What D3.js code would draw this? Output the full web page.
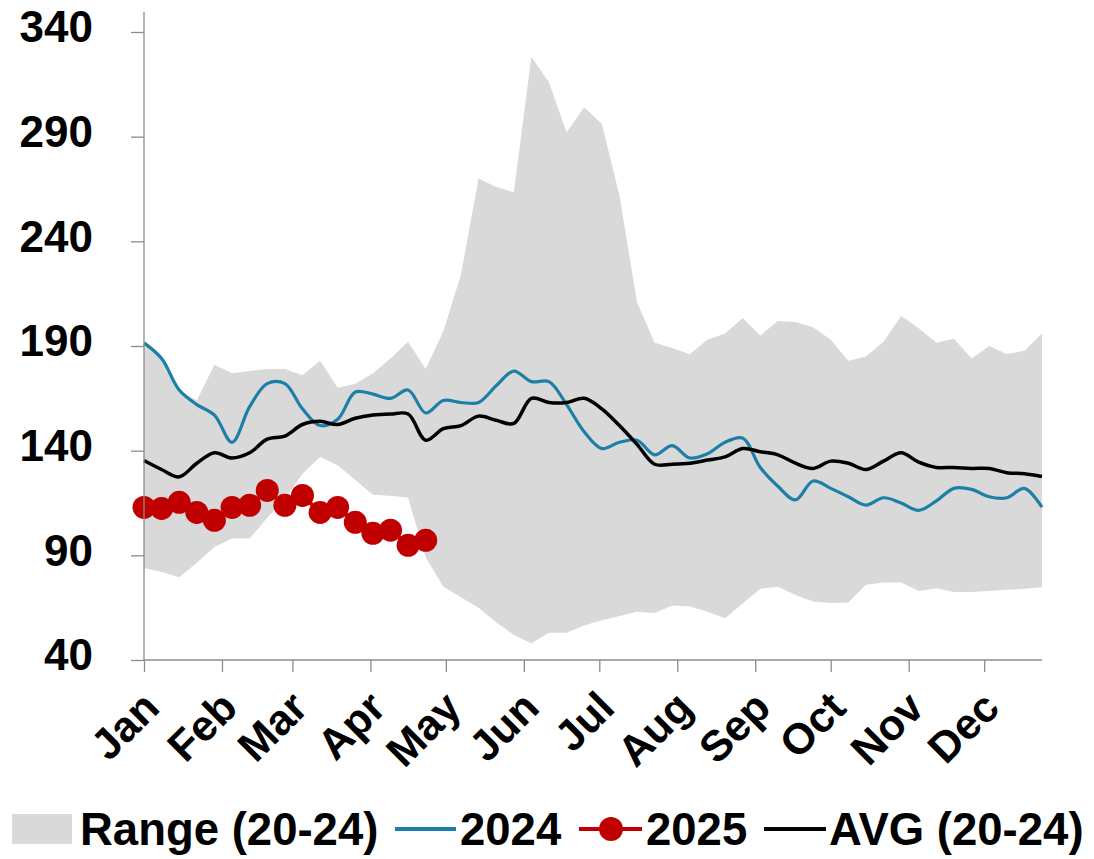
<!DOCTYPE html>
<html>
<head>
<meta charset="utf-8">
<script src="https://cdn.jsdelivr.net/npm/d3@7"></script>
<style>
  html, body { margin: 0; padding: 0; background: #fff; }
  svg { display: block; font-family: "Liberation Sans", Arial, sans-serif; font-weight: bold; }
</style>
</head>
<body>
<svg id="chart" width="1094" height="859"></svg>
<script>
// ---- data (weekly, starting Jan 1) ----
const monthLabels = ["Jan","Feb","Mar","Apr","May","Jun","Jul","Aug","Sep","Oct","Nov","Dec"];
const monthStartDays = [0,31,59,90,120,151,181,212,243,273,304,334];
const yTicks = [40, 90, 140, 190, 240, 290, 340];

const rangeLow = [84,82,79.5,86.5,94,98,98,108,117,129,137,133,126,119,118.5,117.5,89,75,70,65,58,52,48,53,53,56.5,59,61,63,62.5,66,65.5,63,60,67,74,75,71,68,67.2,67.5,76,77,77,73,74.3,72.5,72.5,73,73.5,74,74.8];
const rangeHigh = [191,184,169,164,181,177,178,179,179,176,183,170,172,177,184,192,179,197,224,270,266,263.5,328,316,292,304,296,262,211,191.5,189,186,193,196,203.4,195,202,201.5,199,193,183,185,192,204.3,198.5,191.5,193.5,184,190,186.2,187.7,196];
const s2024 = [191.5,184,169,162,157,144,161,172,172,160,152,155,168,167,165,169,158,164,163,163,171,178,173,173,162,149,141,144,145,138,142.4,136.5,138.5,144,146,132,123,116.5,125.5,122,118,114,117.5,115,111.5,116,122,121.5,118,117.5,122,113];
const s2025 = [112.9,112.4,115.3,110.5,106.7,112.9,113.9,121,113.9,118.6,110.5,112.9,105.8,100.5,102,94.8,97.2];
const avg = [135.3,131,127.5,134,139,136.5,139,145.5,147,152.5,154,152.5,155.5,157,157.5,157.5,145,150.5,152,156.5,154.5,153,165,163,163,165,160,152,143,133.5,133.5,134,135.5,137,141,139.5,138,134,131.5,135,134,131,135,139,134.5,132,132,131.5,131.5,129.5,129,127.7];

const seriesNames = ["Range (20-24)", "2024", "2025", "AVG (20-24)"];

// ---- setup ----
const svg = d3.select("#chart");
const x = d3.scaleLinear().domain([0, 357]).range([144, 1042]);
const y = d3.scaleLinear().domain([40, 340]).range([660, 32]);
const dayOf = i => i * 7;

const GRAY = "#d9d9d9", BLUE = "#1b7fa6", RED = "#c00000", AXIS = "#8c8c8c";

// range band
const bandData = rangeLow.map((lo, i) => ({ i, lo, hi: rangeHigh[i] }));
svg.append("path")
  .datum(bandData)
  .attr("fill", GRAY)
  .attr("d", d3.area().x(d => x(dayOf(d.i))).y0(d => y(d.lo)).y1(d => y(d.hi)));

// 2024
svg.append("path")
  .datum(s2024)
  .attr("fill", "none")
  .attr("stroke", BLUE)
  .attr("stroke-width", 3.2)
  .attr("stroke-linejoin", "round")
  .attr("d", d3.line().x((d, i) => x(dayOf(i))).y(d => y(d)).curve(d3.curveCatmullRom.alpha(0.5)));

// AVG
svg.append("path")
  .datum(avg)
  .attr("fill", "none")
  .attr("stroke", "#000")
  .attr("stroke-width", 3.5)
  .attr("stroke-linejoin", "round")
  .attr("d", d3.line().x((d, i) => x(dayOf(i))).y(d => y(d)).curve(d3.curveCatmullRom.alpha(0.5)));

// 2025
svg.append("path")
  .datum(s2025)
  .attr("fill", "none")
  .attr("stroke", RED)
  .attr("stroke-width", 4)
  .attr("d", d3.line().x((d, i) => x(dayOf(i))).y(d => y(d)));
svg.append("g").selectAll("circle")
  .data(s2025)
  .join("circle")
  .attr("cx", (d, i) => x(dayOf(i)))
  .attr("cy", d => y(d))
  .attr("r", 11.5)
  .attr("fill", RED);

// y axis
const yAxis = svg.append("g")
  .attr("transform", `translate(${x(0)},0)`)
  .call(d3.axisLeft(y).tickValues(yTicks).tickSize(13).tickPadding(0).tickFormat(d3.format("d")));
yAxis.select(".domain").remove();
yAxis.selectAll(".tick line").attr("stroke", AXIS).attr("stroke-width", 1.3);
yAxis.selectAll(".tick text")
  .attr("x", -51)
  .attr("dy", "0.22em")
  .attr("fill", "#000")
  .style("font-size", "44px")
  .style("font-weight", "bold")
  .style("font-family", "'Liberation Sans', Arial, sans-serif");
svg.append("line")
  .attr("x1", x(0)).attr("x2", x(0))
  .attr("y1", 12).attr("y2", y(40))
  .attr("stroke", AXIS).attr("stroke-width", 1.3);

// x axis
const xAxis = svg.append("g")
  .attr("transform", `translate(0,${y(40)})`)
  .call(d3.axisBottom(x).tickValues(monthStartDays).tickSize(12).tickFormat((d, i) => monthLabels[i]));
xAxis.select(".domain").attr("stroke", AXIS).attr("stroke-width", 1.3).attr("d", `M${x(0)},0H${x(357)}`);
xAxis.selectAll(".tick line").attr("stroke", AXIS).attr("stroke-width", 1.3);
xAxis.selectAll(".tick text")
  .attr("y", 0)
  .attr("dy", 0)
  .attr("text-anchor", "end")
  .attr("transform", "translate(17,50) rotate(-45)")
  .attr("fill", "#000")
  .style("font-size", "43px")
  .style("font-weight", "bold")
  .style("font-family", "'Liberation Sans', Arial, sans-serif");

// legend
const lg = svg.append("g").attr("class", "legend").style("font-size", "45.5px");
const ly = 829;
lg.append("rect").attr("x", 12).attr("y", ly - 15).attr("width", 60).attr("height", 30).attr("fill", GRAY);
lg.append("text").attr("x", 80).attr("y", ly + 16).text(seriesNames[0]);
lg.append("line").attr("x1", 395).attr("x2", 456).attr("y1", ly).attr("y2", ly).attr("stroke", BLUE).attr("stroke-width", 4);
lg.append("text").attr("x", 460).attr("y", ly + 16).text(seriesNames[1]);
lg.append("line").attr("x1", 579).attr("x2", 642).attr("y1", ly).attr("y2", ly).attr("stroke", RED).attr("stroke-width", 4);
lg.append("circle").attr("cx", 611).attr("cy", ly).attr("r", 12).attr("fill", RED);
lg.append("text").attr("x", 646).attr("y", ly + 16).text(seriesNames[2]);
lg.append("line").attr("x1", 764).attr("x2", 826).attr("y1", ly).attr("y2", ly).attr("stroke", "#000").attr("stroke-width", 4);
lg.append("text").attr("x", 829).attr("y", ly + 16).text(seriesNames[3]);
</script>
</body>
</html>
